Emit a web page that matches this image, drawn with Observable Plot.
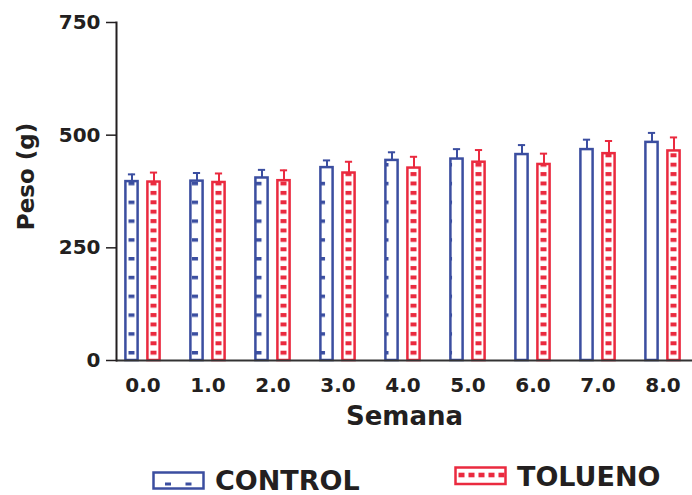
<!DOCTYPE html>
<html><head><meta charset="utf-8">
<script src="https://cdn.jsdelivr.net/npm/d3@7"></script>
<script src="https://cdn.jsdelivr.net/npm/@observablehq/plot@0.6"></script>
<style>
body{margin:0;background:#fff;}
#wrap{position:relative;width:692px;height:495px;overflow:hidden;font-family:"DejaVu Sans",sans-serif;}
#legend{display:block;}
</style></head>
<body><div id="wrap"><div id="chart"></div><div id="legend"></div></div>
<script>
// ---- data ----
const weeks = ["0.0","1.0","2.0","3.0","4.0","5.0","6.0","7.0","8.0"];
const groups = ["CONTROL","TOLUENO"];
const controlMean = [397, 398, 405, 428, 444, 447, 457, 468, 484];
const controlSD   = [16, 18, 18, 16, 18, 22, 21, 22, 21];
const toluenoMean = [396, 395, 399, 416, 427, 440, 435, 459, 465];
const toluenoSD   = [21, 20, 23, 25, 25, 27, 24, 28, 30];
const yTicks = [0, 250, 500, 750];
const xLabel = "Semana";
const yLabel = "Peso (g)";

// ---- styles ----
const BLUE = "#3b4ea0";
const RED = "#ea2a3f";
const INK = "#231f20";
const BW = 65.3;       // band width (padding 0)
const OFF = 11;        // bar centre offset from band centre
const BARW = 12.5;     // bar width
const CAPW = 7.5;      // error cap width

const control = weeks.map((w, i) => ({week: w, mean: controlMean[i], sd: controlSD[i]}));
const tolueno = weeks.map((w, i) => ({week: w, mean: toluenoMean[i], sd: toluenoSD[i]}));

const cL = BW / 2 - OFF - BARW / 2, cR = BW - cL - BARW;
const capCL = BW / 2 - OFF - CAPW / 2, capCR = BW - capCL - CAPW;

function patterns(index, scales) {
  const xs = scales.x, ys = scales.y;
  const bw = xs.bandwidth();
  const step = xs.step ? xs.step() : bw;
  const c0 = xs(weeks[0]) + bw / 2;
  const y0 = ys(0);
  const g = d3.create("svg:g");
  const defs = g.append("defs");
  const pc = defs.append("pattern").attr("id", "patC").attr("patternUnits", "userSpaceOnUse")
    .attr("x", c0 - OFF - 3).attr("y", y0 - 9).attr("width", step * 0.977).attr("height", 18.8);
  pc.append("rect").attr("x", 0).attr("y", 0).attr("width", 6).attr("height", 3.5).attr("fill", BLUE);
  const pt = defs.append("pattern").attr("id", "patT").attr("patternUnits", "userSpaceOnUse")
    .attr("x", c0 + OFF - 3).attr("y", y0 - 9.3).attr("width", step).attr("height", 9.4);
  pt.append("rect").attr("x", 0).attr("y", 0).attr("width", 6).attr("height", 4).attr("fill", RED);
  return g.node();
}

const chart = Plot.plot({
  width: 692,
  height: 445,
  marginLeft: 116,
  marginRight: 0,
  marginTop: 22,
  marginBottom: 85,
  style: {fontFamily: "DejaVu Sans", fontSize: "20px", fontWeight: "bold", color: INK, background: "#fff"},
  x: {type: "band", domain: weeks, range: [109, 109 + BW * weeks.length], padding: 0, label: null},
  y: {domain: [0, 750], label: null},
  marks: [
    patterns,
    Plot.barY(control, {x: "week", y: "mean", fill: "url(#patC)", stroke: BLUE, strokeWidth: 2.5, insetLeft: cL, insetRight: cR}),
    Plot.barY(tolueno, {x: "week", y: "mean", fill: "url(#patT)", stroke: RED, strokeWidth: 2.5, insetLeft: cR, insetRight: cL}),
    Plot.ruleX(control, {x: "week", y1: "mean", y2: d => d.mean + d.sd, dx: -OFF, stroke: BLUE, strokeWidth: 2}),
    Plot.ruleX(tolueno, {x: "week", y1: "mean", y2: d => d.mean + d.sd, dx: OFF, stroke: RED, strokeWidth: 2}),
    Plot.tickY(control, {x: "week", y: d => d.mean + d.sd, stroke: BLUE, strokeWidth: 2, insetLeft: capCL, insetRight: capCR}),
    Plot.tickY(tolueno, {x: "week", y: d => d.mean + d.sd, stroke: RED, strokeWidth: 2, insetLeft: capCR, insetRight: capCL}),
    Plot.axisY(yTicks, {tickSize: 10, tickPadding: 6, strokeWidth: 1.5, label: null}),
    Plot.axisX({tickSize: 0, tickPadding: 17, label: null}),
    Plot.ruleY([0], {stroke: "#333", strokeWidth: 2}),
    Plot.frame({anchor: "left", stroke: INK, strokeWidth: 2}),
    Plot.text([xLabel], {text: d => d, frameAnchor: "bottom", lineAnchor: "middle", textAnchor: "middle", dy: 56.5, fontSize: 26, fontWeight: "bold", fill: INK}),
    Plot.text([yLabel], {text: d => d, frameAnchor: "left", lineAnchor: "middle", textAnchor: "middle", rotate: -90, dx: -90, dy: -15, fontSize: 23, fontWeight: "bold", fill: INK})
  ]
});
document.getElementById("chart").appendChild(chart);

// ---- legend (below the chart) ----
const leg = d3.select("#legend").append("svg").attr("width", 692).attr("height", 50)
  .style("display", "block").style("font-family", "DejaVu Sans").style("font-weight", "bold");
const items = [
  {name: groups[0], color: BLUE, rx: 153.5, ry: 27.5, rh: 16, tx: 215, ty: 45, sq: [165, 185.5], sy: 37.5, sh: 3},
  {name: groups[1], color: RED, rx: 455.5, ry: 22.5, rh: 16.5, tx: 517, ty: 41, sq: [458.5, 468.5, 478.5, 488.5, 498.5], sy: 27.7, sh: 4.6}
];
for (const it of items) {
  leg.append("rect").attr("x", it.rx).attr("y", it.ry).attr("width", 50).attr("height", it.rh)
    .attr("fill", "#fff").attr("stroke", it.color).attr("stroke-width", 2.5);
  for (const sx of it.sq) {
    leg.append("rect").attr("x", sx).attr("y", it.sy).attr("width", 6).attr("height", it.sh).attr("fill", it.color);
  }
  leg.append("text").attr("x", it.tx).attr("y", it.ty).attr("font-size", 27).attr("fill", INK).text(it.name);
}
</script>
</body></html>
